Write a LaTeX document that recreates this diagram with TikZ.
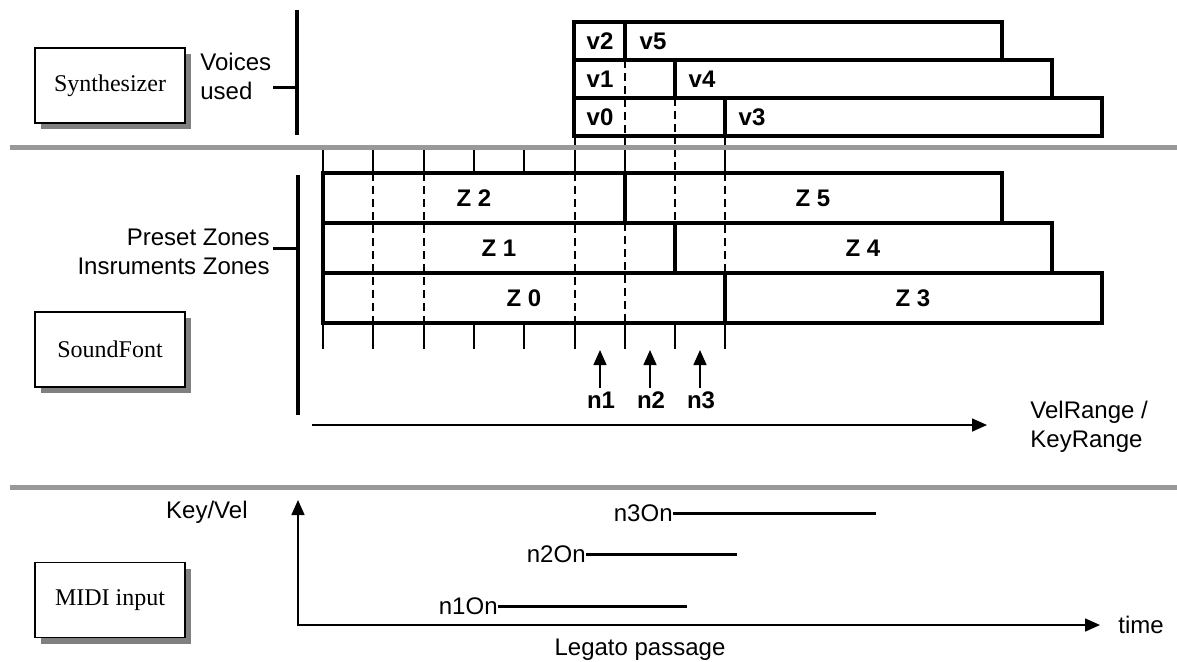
\documentclass[tikz,border=0pt]{standalone}
\usepackage{fontspec}
\setmainfont{Liberation Sans}
\newfontfamily\boxfont{Liberation Serif}
\usetikzlibrary{arrows.meta,shadows}
\tikzset{
 lbl/.style={font=\fontsize{12}{14.5}\selectfont, inner sep=0pt},
 blbl/.style={font=\fontsize{12}{14}\selectfont\bfseries, inner sep=0pt},
 sbox/.style={draw, line width=0.75pt, fill=white, minimum width=75pt, minimum height=37.5pt,
   font=\boxfont\fontsize{12}{14}\selectfont,
   drop shadow={shadow xshift=3pt, shadow yshift=-3pt, fill=black!50, opacity=1}},
 zone/.style={line width=2pt},
 dsh/.style={line width=1.4pt, dash pattern=on 4pt off 2.5pt},
 tck/.style={line width=0.6pt},
 sep/.style={line width=2.5pt, black!40},
 bar/.style={line width=2pt},
 note/.style={line width=1.5pt},
 axis/.style={line width=0.8pt},
 tip/.style={-{Triangle[length=7.5pt,width=6.5pt]}},
}
\begin{document}
\begin{tikzpicture}[x=0.5pt,y=-0.5pt]
\useasboundingbox (0,0) rectangle (1177,661);

% ---------- boxes ----------
\node[sbox] (synth) at (110,85.5) {Synthesizer};
\node[sbox] (sf) at (110,349.5) {SoundFont};
\node[sbox] (midi) at (110,600) {MIDI input};

% ---------- synthesizer section ----------
\node[lbl, anchor=west, align=left] (voices) at (200,76) {Voices\\used};
\coordinate (vtop) at (297,10);
\coordinate (vbot) at (297,135);
\coordinate (vt0) at (273,87);
\coordinate (vt1) at (297,87);
\draw[bar] (vtop) -- (vbot);
\draw[note] (vt0) -- (vt1);

% ---------- ticks ----------
\foreach \x in {323,373,424,474,524}{\draw[tck] (\x,150) -- (\x,173);}
\foreach \x in {575,625,725}{\draw[tck] (\x,136) -- (\x,173);}
\draw[dsh] (675,136) -- (675,173);
\foreach \x in {323,373,424,474,524,575,625,675,725}{\draw[tck] (\x,323) -- (\x,349);}

% ---------- dashed lines ----------
\foreach \x in {373,424,575}{\draw[dsh] (\x,173) -- (\x,323);}
\draw[dsh] (625,223) -- (625,323);
\draw[dsh] (675,173) -- (675,223);
\draw[dsh] (725,173) -- (725,273);
\draw[dsh] (625,60) -- (625,136);
\draw[dsh] (675,98) -- (675,136);

% ---------- voices ----------
\draw[zone] (574,22) rectangle (625,60);
\draw[zone] (625,22) rectangle (1002,60);
\draw[zone] (574,60) rectangle (675,98);
\draw[zone] (675,60) rectangle (1052,98);
\draw[zone] (574,98) rectangle (725,136);
\draw[zone] (725,98) rectangle (1102,136);
\node[blbl] (v2) at (600,41) {v2};
\node[blbl] (v5) at (653,41) {v5};
\node[blbl] (v1) at (600,79) {v1};
\node[blbl] (v4) at (702,79) {v4};
\node[blbl] (v0) at (600,117) {v0};
\node[blbl] (v3) at (752,117) {v3};

% ---------- zones ----------
\draw[zone] (323,173) rectangle (625,223);
\draw[zone] (625,173) rectangle (1002,223);
\draw[zone] (323,223) rectangle (675,273);
\draw[zone] (675,223) rectangle (1052,273);
\draw[zone] (323,273) rectangle (725,323);
\draw[zone] (725,273) rectangle (1102,323);
\node[blbl] (z2) at (474,198) {Z 2};
\node[blbl] (z5) at (813,198) {Z 5};
\node[blbl] (z1) at (499,248) {Z 1};
\node[blbl] (z4) at (863,248) {Z 4};
\node[blbl] (z0) at (524,298) {Z 0};
\node[blbl] (z3) at (913,298) {Z 3};

% ---------- soundfont section ----------
\node[lbl, anchor=east, align=right] (zones) at (270,252) {Preset Zones\\Insruments Zones};
\coordinate (stop) at (298,175);
\coordinate (sbot) at (298,415);
\coordinate (st0) at (273,248);
\coordinate (st1) at (298,248);
\draw[bar] (stop) -- (sbot);
\draw[note] (st0) -- (st1);

\node[blbl] (n1) at (601,400) {n1};
\node[blbl] (n2) at (651,400) {n2};
\node[blbl] (n3) at (701,400) {n3};
\coordinate (n1t) at (600,350);
\coordinate (n2t) at (650,350);
\coordinate (n3t) at (700,350);
\draw[axis,tip] (n1.north -| n1t) ++(0,-3) -- (n1t);
\draw[axis,tip] (n2.north -| n2t) ++(0,-3) -- (n2t);
\draw[axis,tip] (n3.north -| n3t) ++(0,-3) -- (n3t);

\coordinate (ka) at (312,425);
\coordinate (kb) at (987,425);
\draw[axis,tip] (ka) -- (kb);
\node[lbl, anchor=west, align=left] (range) at (1030,427) {VelRange /\\KeyRange};

% ---------- separators ----------
\coordinate (s1a) at (10,147);
\coordinate (s1b) at (1177,147);
\coordinate (s2a) at (10,487);
\coordinate (s2b) at (1177,487);
\draw[sep] (s1a) -- (s1b);
\draw[sep] (s2a) -- (s2b);

% ---------- MIDI section ----------
\coordinate (o) at (298,625);
\coordinate (ytop) at (298,500);
\coordinate (xend) at (1100,625);
\draw[axis,{Triangle[length=7.5pt,width=6.5pt]}-{Triangle[length=7.5pt,width=6.5pt]}] (ytop) -- (o) -- (xend);
\node[lbl, anchor=east] (keyvel) at (248,512) {Key/Vel};
\node[lbl, anchor=west] (time) at (1118,625) {time};
\node[lbl] (legato) at (640,650) {Legato passage};

\node[lbl, anchor=east] (n1on) at (498,606) {n1On};
\node[lbl, anchor=east] (n2on) at (586,554) {n2On};
\node[lbl, anchor=east] (n3on) at (673,513) {n3On};
\coordinate (e1) at (687,606);
\coordinate (e2) at (737,554);
\coordinate (e3) at (876,513);
\draw[note] (n1on.east) -- (e1 |- n1on.east);
\draw[note] (n2on.east) -- (e2 |- n2on.east);
\draw[note] (n3on.east) -- (e3 |- n3on.east);
\end{tikzpicture}
\end{document}
